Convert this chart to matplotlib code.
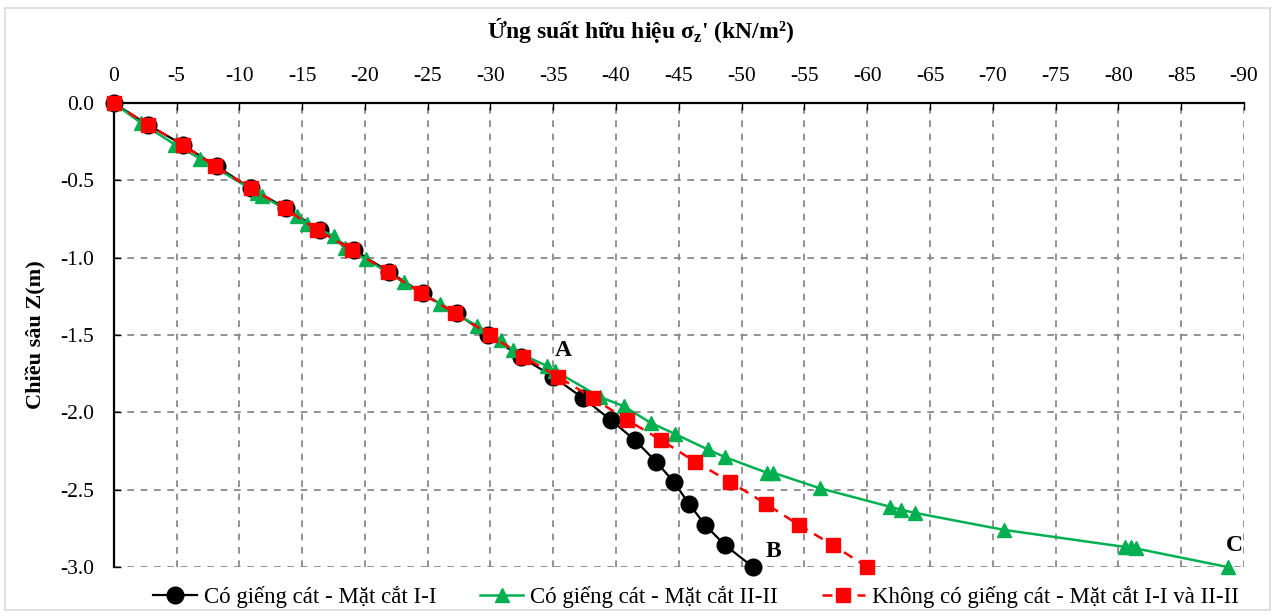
import matplotlib
matplotlib.use("Agg")
import matplotlib.pyplot as plt
from matplotlib.patches import Rectangle

plt.rcParams["font.family"] = ["Liberation Serif", "DejaVu Serif"]
plt.rcParams["axes.unicode_minus"] = False
plt.rcParams["mathtext.fontset"] = "custom"
plt.rcParams["mathtext.rm"] = "Liberation Serif"
plt.rcParams["mathtext.bf"] = "Liberation Serif:bold"

# Có giếng cát - Mặt cắt I-I (đen)
z_1 = [0.0, -0.14, -0.27, -0.41, -0.55, -0.68, -0.82, -0.95, -1.09, -1.23, -1.36, -1.50,
       -1.64, -1.77, -1.91, -2.05, -2.18, -2.32, -2.45, -2.59, -2.73, -2.86, -3.0]
s_1 = [0.0, -2.7, -5.5, -8.2, -10.9, -13.7, -16.4, -19.1, -21.9, -24.6, -27.3, -29.8,
       -32.4, -35.0, -37.4, -39.6, -41.5, -43.2, -44.6, -45.8, -47.1, -48.7, -50.9]

# Có giếng cát - Mặt cắt II-II (xanh)
z_2 = [0.0, -0.13, -0.27, -0.36, -0.58, -0.60, -0.73, -0.78, -0.86, -0.94, -1.01, -1.16,
       -1.30, -1.44, -1.53, -1.60, -1.70, -1.73, -1.90, -1.96, -2.07, -2.14, -2.24, -2.29,
       -2.39, -2.39, -2.49, -2.61, -2.63, -2.65, -2.76, -2.87, -2.87, -2.88, -3.0]
s_2 = [0.0, -2.2, -4.9, -6.9, -11.4, -11.8, -14.6, -15.4, -17.5, -18.4, -20.1, -23.1,
       -26.0, -28.9, -30.8, -31.8, -34.5, -35.1, -38.7, -40.6, -42.8, -44.7, -47.3, -48.7,
       -52.0, -52.5, -56.2, -61.8, -62.7, -63.8, -70.9, -80.5, -81.0, -81.4, -88.7]

# Không có giếng cát - Mặt cắt I-I và II-II (đỏ)
z_3 = z_1
s_3 = [0.0, -2.7, -5.5, -8.1, -10.9, -13.6, -16.2, -19.0, -21.8, -24.5, -27.2, -30.0,
       -32.6, -35.4, -38.2, -40.9, -43.6, -46.3, -49.1, -51.9, -54.6, -57.3, -60.0]

x_ticks = list(range(0, -95, -5))
y_ticks = [0.0, -0.5, -1.0, -1.5, -2.0, -2.5, -3.0]

fig = plt.figure(figsize=(12.75, 6.14), dpi=100)
fig.patches.append(Rectangle((0.004, 0.006), 0.992, 0.981, transform=fig.transFigure,
                             fill=False, edgecolor="#d9d9d9", lw=1.2))
ax = fig.add_axes([0.0892, 0.0765, 0.8865, 0.7557])

ax.plot(s_1, z_1, color="black", lw=1.6, marker="o", ms=12, zorder=3,
        label="Có giếng cát - Mặt cắt I-I")
ax.plot(s_2, z_2, color="#00b050", lw=1.8, marker="^", ms=10, zorder=4,
        label="Có giếng cát - Mặt cắt II-II")
ax.plot(s_3, z_3, color="red", lw=1.8, ls=(0, (4, 3)), marker="s", ms=10, zorder=5,
        label="Không có giếng cát - Mặt cắt I-I và II-II")

ax.set_xlim(0, -90)
ax.set_ylim(-3.0, 0.0)
ax.set_xticks(x_ticks)
ax.set_xticklabels([str(t) for t in x_ticks])
ax.set_yticks(y_ticks)
ax.set_yticklabels([f"{t:.1f}" for t in y_ticks])
ax.xaxis.tick_top()
ax.tick_params(axis="x", direction="in", length=5, width=1, labelsize=15.5, pad=12)
ax.tick_params(axis="y", direction="in", length=5, width=1, labelsize=15.5, pad=14)
ax.grid(True, color="#808080", ls=(0, (4, 4)), lw=1.2)
for side in ("bottom", "right"):
    ax.spines[side].set_visible(False)
for side in ("top", "left"):
    ax.spines[side].set_linewidth(1.6)
for ln in ax.lines:
    ln.set_clip_on(False)

ax.text(-35.8, -1.60, "A", fontsize=17, fontweight="bold", ha="center", va="center")
ax.text(-52.5, -2.90, "B", fontsize=17, fontweight="bold", ha="center", va="center")
ax.text(-89.2, -2.86, "C", fontsize=17, fontweight="bold", ha="center", va="center")

fig.text(0.502, 0.950, "Ứng suất hữu hiệu σ$_\\mathbf{z}$' (kN/m²)", fontsize=17,
         fontweight="bold", ha="center", va="center")
ax.set_ylabel("Chiều sâu Z(m)", fontsize=16, fontweight="bold", labelpad=10)

fig.legend(loc="center", bbox_to_anchor=(0.546, 0.028), ncol=3, frameon=False,
           fontsize=16.5, handlelength=1.9, handletextpad=0.3, columnspacing=1.9,
           borderaxespad=0)

fig.savefig("out.png", dpi=100)
